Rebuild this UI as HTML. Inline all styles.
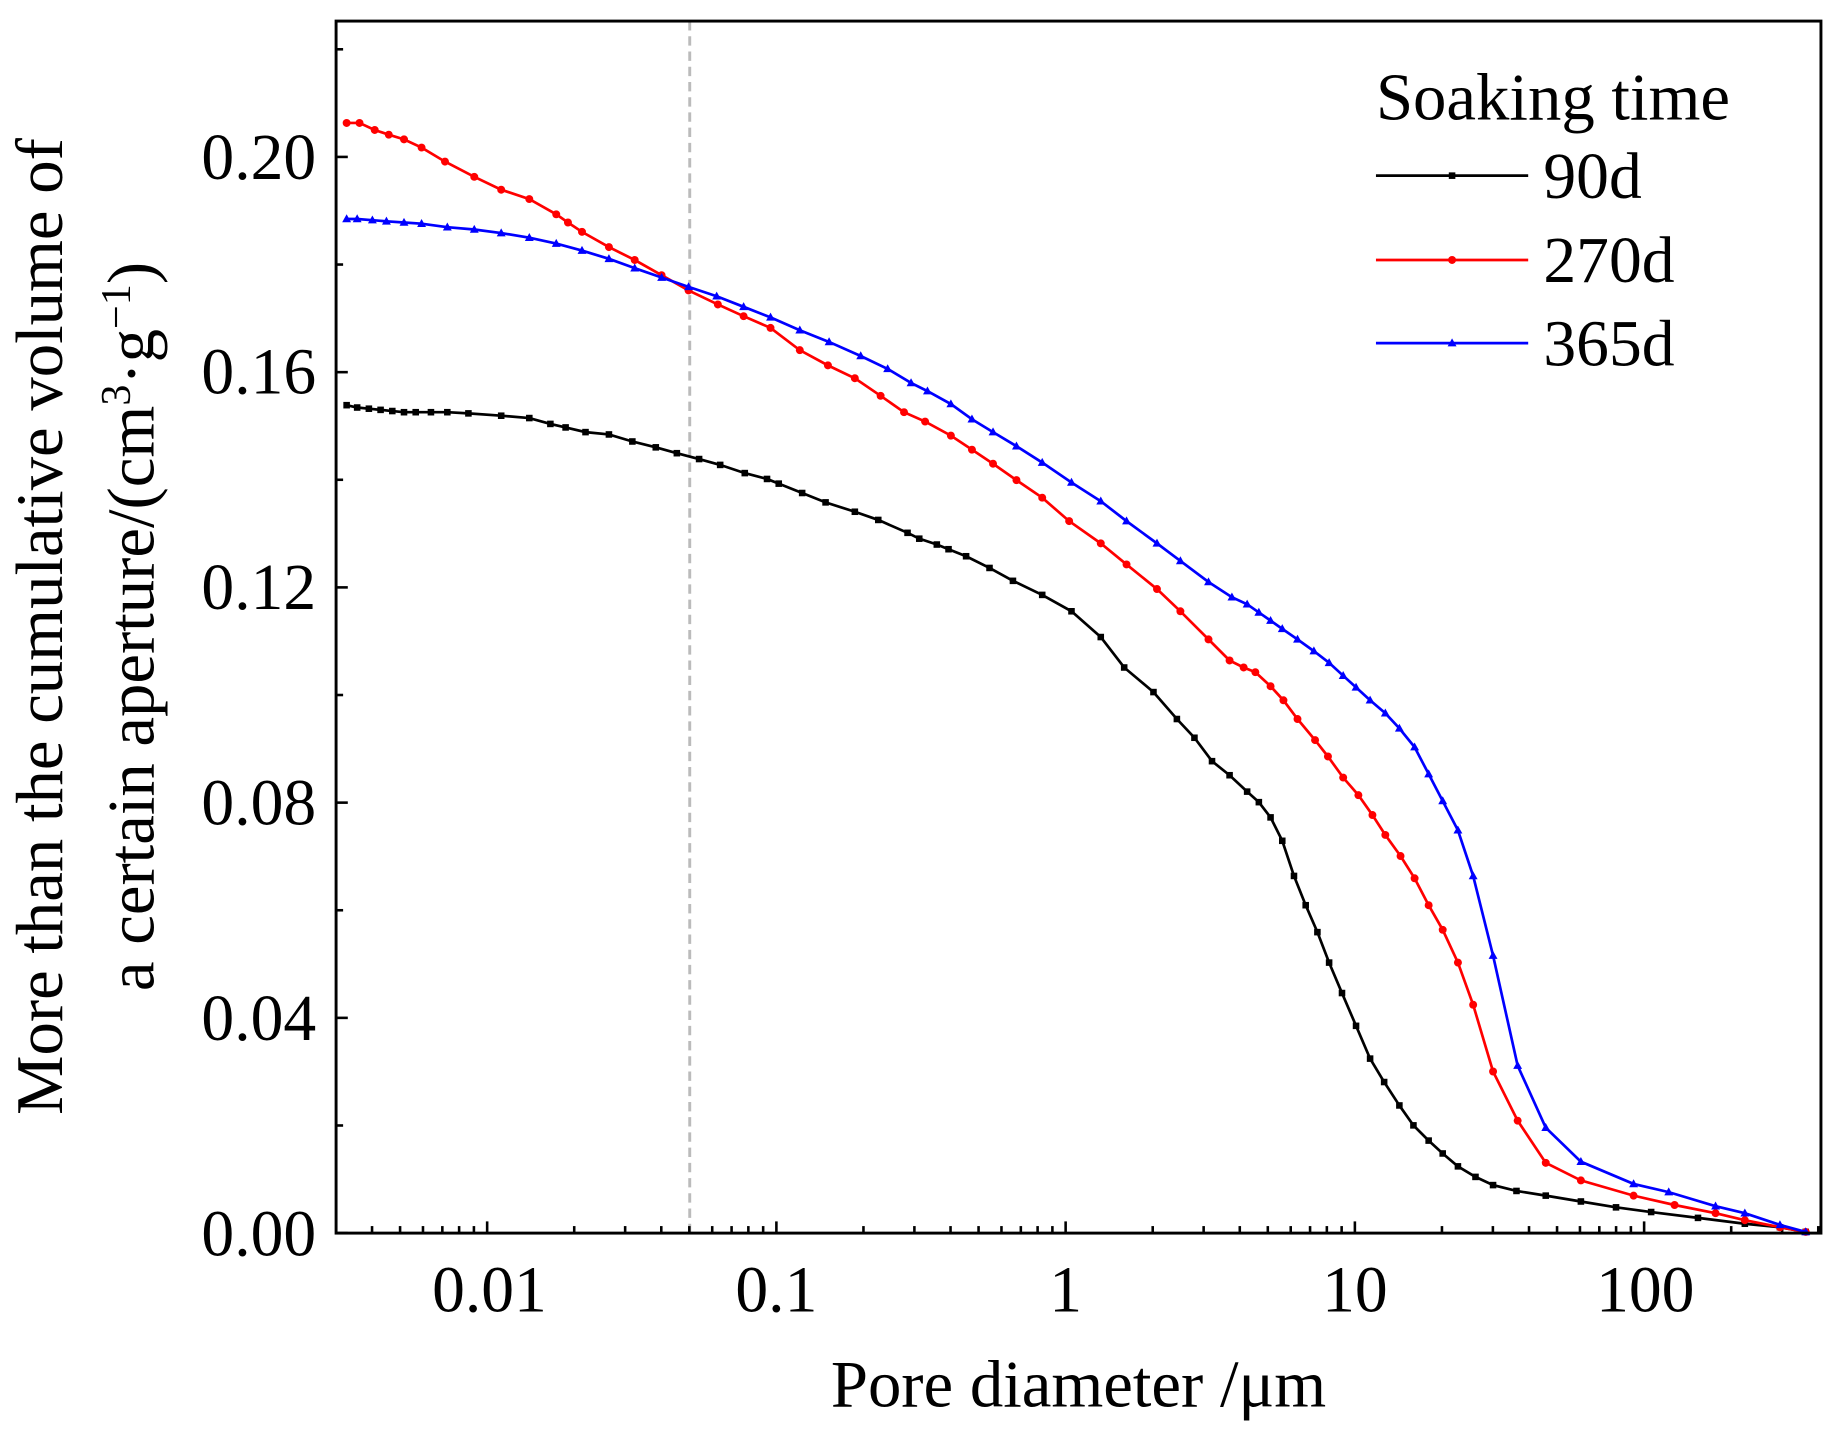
<!DOCTYPE html>
<html><head><meta charset="utf-8"><style>
html,body{margin:0;padding:0;background:#fff}
svg{display:block}
text{font-family:"Liberation Serif",serif;fill:#000}
</style></head><body>
<svg id="s" width="1835" height="1433" viewBox="0 0 1567 1223.7" preserveAspectRatio="none" xmlns="http://www.w3.org/2000/svg">
<rect x="0" y="0" width="1567" height="1224" fill="#fff"/>
<line x1="589" y1="18" x2="589" y2="1053" stroke="#bbb" stroke-width="2.5" stroke-dasharray="8,5"/>
<g id="ticks" stroke="#000" stroke-width="2.2"></g>
<g id="series"></g>
<rect x="287" y="18" width="1268" height="1035" fill="none" stroke="#000" stroke-width="2.5"/>
<g font-size="56" text-anchor="end">
<text x="270" y="1072">0.00</text>
<text x="270" y="888">0.04</text>
<text x="270" y="704">0.08</text>
<text x="270" y="520">0.12</text>
<text x="270" y="336">0.16</text>
<text x="270" y="153">0.20</text>
</g>
<g font-size="56" text-anchor="middle">
<text x="418" y="1120">0.01</text>
<text x="663" y="1120">0.1</text>
<text x="910" y="1120">1</text>
<text x="1157" y="1120">10</text>
<text x="1405" y="1120">100</text>
</g>
<text x="921" y="1201" font-size="57" text-anchor="middle">Pore diameter /μm</text>
<g font-size="57" text-anchor="middle">
<text transform="translate(53,535) rotate(-90)">More than the cumulative volume of</text>
<text transform="translate(131,535) rotate(-90)">a certain aperture/(cm<tspan font-size="36" dy="-20">3</tspan><tspan dy="20">·g</tspan><tspan font-size="36" dy="-20">−1</tspan><tspan dy="20">)</tspan></text>
</g>
<text x="1175" y="102" font-size="57">Soaking time</text>
<g font-size="56">
<text x="1318" y="169">90d</text>
<text x="1318" y="241">270d</text>
<text x="1318" y="312">365d</text>
</g>
<g id="legend"></g>
</svg>
<script>
var NS="http://www.w3.org/2000/svg";
function el(t,a,p){var e=document.createElementNS(NS,t);for(var k in a)e.setAttribute(k,a[k]);p.appendChild(e);return e;}
var tk=document.getElementById('ticks');
function X(d){return 910+247*Math.log10(d);}
for(var e=-3;e<=2;e++){for(var m=1;m<=9;m++){var d=m*Math.pow(10,e);var x=X(d);if(x<=288||x>=1554)continue;var L=(m==1)?10:6;el('line',{x1:x,y1:1053,x2:x,y2:1053-L},tk);}}
for(var i=0;i<=11;i++){var y=1053-i*91.9;if(y<20)continue;var L=(i%2==0)?10:6;el('line',{x1:287,y1:y,x2:287+L,y2:y},tk);}
var B=[[296,346],[305,348],[315,349],[325,350],[335,351],[345,352],[355,352],[368,352],[382,352],[400,353],[428,355],[452,357],[470,362],[483,365],[500,369],[520,371],[540,377],[560,382],[578,387],[597,392],[615,397],[636,404],[655,409],[665,413],[685,421],[705,429],[730,437],[750,444],[775,455],[785,460],[800,465],[810,469],[825,475],[845,485],[865,496],[890,508],[915,522],[940,544],[960,570],[985,591],[1005,614],[1020,630],[1035,650],[1050,662],[1065,676],[1075,685],[1085,698],[1095,718],[1105,748],[1115,773],[1125,796],[1135,822],[1146,848],[1158,876],[1170,904],[1182,924],[1195,944],[1207,961],[1220,974],[1232,985],[1245,996],[1260,1005],[1275,1012],[1295,1017],[1320,1021],[1350,1026],[1380,1031],[1410,1035],[1450,1040],[1490,1045],[1520,1048],[1542,1052]];
var R=[[296,105],[307,105],[320,111],[332,115],[345,119],[360,126],[380,138],[405,151],[428,162],[452,170],[475,183],[485,190],[497,198],[520,211],[542,222],[565,235],[588,248],[613,260],[635,270],[658,280],[683,299],[707,312],[730,323],[752,338],[772,352],[790,360],[812,372],[830,384],[848,396],[868,410],[890,425],[913,445],[940,464],[962,482],[988,503],[1008,522],[1032,546],[1050,564],[1062,570],[1072,574],[1085,586],[1096,598],[1108,614],[1123,632],[1134,646],[1147,664],[1160,679],[1172,696],[1183,713],[1196,731],[1208,750],[1220,773],[1232,794],[1245,822],[1258,858],[1275,915],[1296,957],[1320,993],[1350,1008],[1395,1021],[1430,1029],[1465,1036],[1490,1042],[1520,1048],[1542,1052]];
var U=[[296,187],[305,187],[318,188],[330,189],[345,190],[360,191],[382,194],[405,196],[428,199],[452,203],[475,208],[497,214],[520,221],[542,229],[565,237],[588,245],[612,253],[635,262],[658,271],[683,282],[708,292],[735,304],[758,315],[778,327],[792,334],[812,345],[830,358],[848,369],[868,381],[890,395],[915,412],[940,428],[962,445],[988,464],[1008,479],[1032,497],[1052,510],[1065,516],[1075,523],[1085,530],[1095,537],[1108,546],[1122,556],[1135,566],[1147,577],[1158,587],[1170,598],[1183,609],[1195,622],[1208,638],[1220,661],[1232,684],[1245,709],[1258,748],[1275,816],[1296,910],[1320,963],[1350,992],[1395,1011],[1425,1018],[1465,1030],[1490,1036],[1520,1046],[1542,1052]];
var sg=document.getElementById('series'),lg=document.getElementById('legend');
function mk(g,x,y,t,c){if(t=='s')el('rect',{x:x-2.8,y:y-2.8,width:5.6,height:5.6,fill:c},g);else if(t=='c')el('circle',{cx:x,cy:y,r:3.4,fill:c},g);else el('polygon',{points:(x)+','+(y-4)+' '+(x-3.8)+','+(y+2.8)+' '+(x+3.8)+','+(y+2.8),fill:c},g);}
function draw(P,c,t){el('polyline',{points:P.map(function(p){return p.join(',')}).join(' '),fill:'none',stroke:c,'stroke-width':2.3},sg);P.forEach(function(p){mk(sg,p[0],p[1],t,c);});}
draw(B,'#000','s');draw(R,'#f00','c');draw(U,'#00f','t');
[[150,'#000','s'],[222,'#f00','c'],[293,'#00f','t']].forEach(function(a){el('line',{x1:1175,y1:a[0],x2:1305,y2:a[0],stroke:a[1],'stroke-width':2.3},lg);mk(lg,1240,a[0],a[2],a[1]);});
</script>
</body></html>
